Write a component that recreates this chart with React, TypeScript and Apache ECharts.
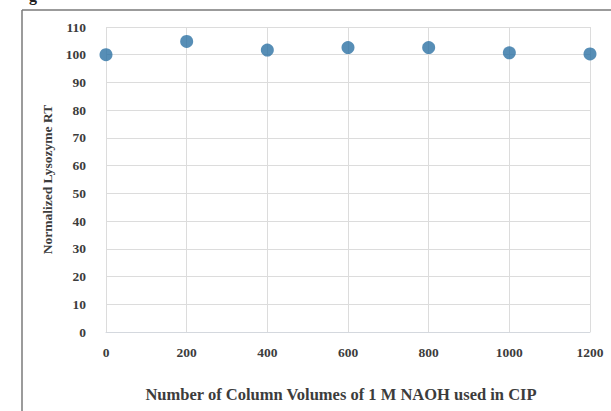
import React, { useEffect, useRef } from "react";
import * as echarts from "echarts";

const cvCounts = [0, 200, 400, 600, 800, 1000, 1200];
const normalizedRT = [100, 104.8, 101.7, 102.6, 102.6, 100.7, 100.3];
const xAxisTitle = "Number of Column Volumes of 1 M NAOH used in CIP";
const yAxisTitle = "Normalized Lysozyme RT";

const FONT = "'Liberation Serif', 'Times New Roman', serif";
const TEXT_COLOR = "#3c3c3c";

export default function App() {
  const ref = useRef<HTMLDivElement>(null);
  useEffect(() => {
    if (!ref.current) return;
    const chart = echarts.init(ref.current, undefined, { renderer: "svg" });
    chart.setOption({
      animation: false,
      backgroundColor: "#ffffff",
      grid: { left: 106, right: 21, top: 27, bottom: 79, containLabel: false },
      xAxis: {
        type: "value",
        min: 0,
        max: 1200,
        interval: 200,
        name: xAxisTitle,
        nameLocation: "middle",
        nameGap: 54,
        nameTextStyle: {
          fontFamily: FONT,
          fontWeight: "bold",
          fontSize: 16.5,
          color: TEXT_COLOR,
          padding: [0, 14, 0, 0],
        },
        axisLine: { show: true, lineStyle: { color: "#d4d8de", width: 1 } },
        axisTick: { show: false },
        axisLabel: {
          margin: 13,
          fontFamily: FONT,
          fontWeight: "bold",
          fontSize: 13.5,
          color: TEXT_COLOR,
          formatter: (v: number) => String(v),
        },
        splitLine: { show: true, lineStyle: { color: "#dcdcdc", width: 1 } },
      },
      yAxis: {
        type: "value",
        min: 0,
        max: 110,
        interval: 10,
        name: yAxisTitle,
        nameLocation: "middle",
        nameGap: 50,
        nameRotate: 90,
        nameTextStyle: { fontFamily: FONT, fontWeight: "bold", fontSize: 13.5, color: TEXT_COLOR },
        axisLine: { show: false },
        axisTick: { show: false },
        axisLabel: { margin: 20, fontFamily: FONT, fontWeight: "bold", fontSize: 13.5, color: TEXT_COLOR },
        splitLine: { show: true, lineStyle: { color: "#dcdcdc", width: 1 } },
      },
      series: [
        {
          type: "scatter",
          data: cvCounts.map((x, i) => [x, normalizedRT[i]]),
          symbol: "circle",
          symbolSize: 13,
          itemStyle: { color: "#2d72a4" },
        },
      ],
      graphic: [
        { type: "line", shape: { x1: 22, y1: 10, x2: 611, y2: 10 }, style: { stroke: "#7a7a7a", lineWidth: 1.5 } },
        { type: "line", shape: { x1: 22, y1: 10, x2: 22, y2: 411 }, style: { stroke: "#7a7a7a", lineWidth: 1.5 } },
        {
          type: "text",
          left: 29,
          top: -13,
          style: { text: "g", font: "bold 16px " + FONT, fill: "#222" },
        },
      ],
    });
    return () => chart.dispose();
  }, []);
  return (
    <div
      ref={ref}
      style={{ position: "fixed", left: 0, top: 0, width: 611, height: 411 }}
    />
  );
}
